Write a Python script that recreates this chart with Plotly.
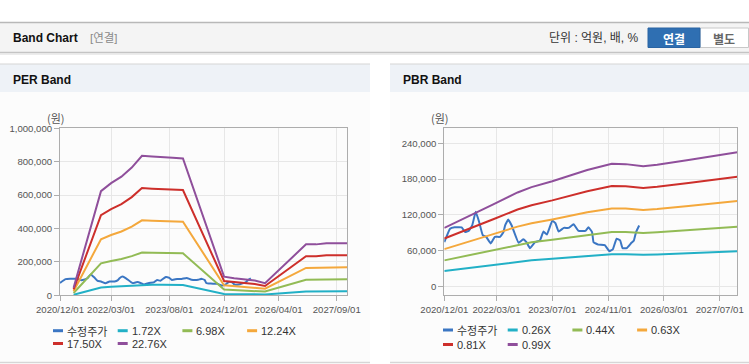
import plotly.graph_objects as go

W, H = 749, 364

# ---------------- data ----------------
price_dates = ["2020-12-01","2021-01-20","2021-03-01","2021-05-01","2021-06-01","2021-07-01","2021-08-01",
               "2021-09-01","2021-10-01","2021-11-01","2021-12-01","2022-01-10","2022-02-15","2022-04-01",
               "2022-05-01","2022-05-15","2022-06-12","2022-07-12","2022-09-10","2022-10-20","2022-11-18",
               "2022-12-18","2023-02-01","2023-03-15","2023-04-15","2023-05-15","2023-07-01","2023-07-28",
               "2023-08-25","2023-10-10","2023-11-20","2024-01-03","2024-02-15","2024-04-15","2024-05-12",
               "2024-06-12","2024-06-25","2024-08-05","2024-10-01","2024-11-10","2024-12-10","2025-01-12",
               "2025-02-12","2025-03-05","2025-04-10","2025-05-22","2025-06-12","2025-07-01","2025-07-28"]
price_vals = [74000,96700,99000,99000,91000,93000,102000,125000,108000,86000,
              83000,72000,83000,83000,91000,102000,112000,102000,73000,79000,
              74000,64000,74000,77000,92000,87000,110000,106000,92000,98000,
              98000,104000,93000,93000,99000,91000,74000,70000,69000,59000,
              62000,80000,77000,64000,64000,73000,77000,91000,102000]

per_dates = ["2021-04-01","2021-12-01","2022-03-01","2022-06-01","2022-09-01","2022-12-01","2023-03-01",
             "2023-06-01","2023-09-01","2023-12-01","2024-12-01","2025-03-01","2025-06-01","2025-09-01",
             "2025-12-01","2026-12-01","2027-03-01","2027-06-01","2027-12-01"]
per_172 = [3440,47128,50740,53664,57792,63124,62780,62608,62264,61920,8428,7740,7224,6708,5504,23048,23048,23564,23564]
per_698 = [13960,191252,205910,217776,234528,256166,254770,254072,252676,251280,34202,31410,29316,27222,22336,93532,93532,95626,95626]
per_1224 = [24480,335376,361080,381888,411264,449208,446760,445536,443088,440640,59976,55080,51408,47736,39168,164016,164016,167688,167688]
per_1750 = [35000,479500,516250,546000,588000,642250,638750,637000,633500,630000,85750,78750,73500,68250,56000,234500,234500,239750,239750]
per_2276 = [45520,623624,671420,710112,764736,835292,830740,828464,823912,819360,111524,102420,95592,88764,72832,304984,304984,311812,311812]

pbr_dates = ["2020-12-01","2021-08-01","2022-02-01","2022-09-01","2023-01-01","2023-07-01","2024-05-01",
             "2024-12-01","2025-04-01","2025-09-01","2026-01-01","2026-10-01","2027-12-01"]
pbr_026 = [25740,31460,36140,41340,43680,46280,51220,53950,53820,52910,53560,55640,59020]
pbr_044 = [43560,53240,61160,69960,73920,78320,86680,91300,91080,89540,90640,94160,99880]
pbr_063 = [62370,76230,87570,100170,105840,112140,124110,130725,130410,128205,129780,134820,143010]
pbr_081 = [80190,98010,112590,128790,136080,144180,159570,168075,167670,164835,166860,173340,183870]
pbr_099 = [98010,119790,137610,157410,166320,176220,195030,205425,204930,201465,203940,211860,224730]

per_names = ["수정주가", "1.72X", "6.98X", "12.24X", "17.50X", "22.76X"]
pbr_names = ["수정주가", "0.26X", "0.44X", "0.63X", "0.81X", "0.99X"]
colors = ["#3b76c3", "#22b0c6", "#92bb55", "#f4a83c", "#cd2f2b", "#8f4f9b"]

per_ticks = ["2020-12-01","2022-03-01","2023-08-01","2024-12-01","2026-04-01","2027-09-01"]
pbr_ticks = ["2020-12-01","2022-03-01","2023-07-01","2024-11-01","2026-03-01","2027-07-01"]
per_yticks = [0, 200000, 400000, 600000, 800000, 1000000]
pbr_yticks = [0, 60000, 120000, 180000, 240000]

# ---------------- figure ----------------
def px(x): return x / W
def py(y): return 1 - y / H

fig = go.Figure()

per_series = [per_172, per_698, per_1224, per_1750, per_2276]
pbr_series = [pbr_026, pbr_044, pbr_063, pbr_081, pbr_099]

fig.add_trace(go.Scatter(x=price_dates, y=price_vals, mode="lines", name=per_names[0],
                         line=dict(color=colors[0], width=2, shape="spline", smoothing=0.3),
                         xaxis="x", yaxis="y", showlegend=False))
for i, s in enumerate(per_series):
    fig.add_trace(go.Scatter(x=per_dates, y=s, mode="lines", name=per_names[i + 1],
                             line=dict(color=colors[i + 1], width=2),
                             xaxis="x", yaxis="y", showlegend=False))
fig.add_trace(go.Scatter(x=price_dates, y=price_vals, mode="lines", name=pbr_names[0],
                         line=dict(color=colors[0], width=2, shape="spline", smoothing=0.3),
                         xaxis="x2", yaxis="y2", showlegend=False))
for i, s in enumerate(pbr_series):
    fig.add_trace(go.Scatter(x=pbr_dates, y=s, mode="lines", name=pbr_names[i + 1],
                             line=dict(color=colors[i + 1], width=2),
                             xaxis="x2", yaxis="y2", showlegend=False))

tickfont = dict(family="Liberation Sans, Arial, sans-serif", size=9.6, color="#555555")
axis_common = dict(showline=True, mirror=True, linecolor="#adadad", linewidth=1,
                   showgrid=True, gridcolor="#e7e7e7", gridwidth=1, zeroline=False,
                   ticks="outside", ticklen=5, tickcolor="#adadad", tickfont=tickfont,
                   tickangle=0, automargin=False)

fig.update_layout(
    width=W, height=H, margin=dict(l=0, r=0, t=0, b=0, autoexpand=False),
    paper_bgcolor="white", plot_bgcolor="rgba(0,0,0,0)",
    showlegend=False,
    xaxis=dict(domain=[px(60), px(347)], type="date", range=["2020-12-01", "2027-12-01"],
               tickvals=per_ticks, tickformat="%Y/%m/%d", anchor="y", **axis_common),
    yaxis=dict(domain=[py(295.3), py(128.3)], range=[0, 1000000], tickvals=per_yticks,
               tickformat=",d", anchor="x", **axis_common),
    xaxis2=dict(domain=[px(444.3), px(737.3)], type="date", range=["2020-12-01", "2027-12-01"],
                tickvals=pbr_ticks, tickformat="%Y/%m/%d", anchor="y2", **axis_common),
    yaxis2=dict(domain=[py(295.3), py(128.3)], range=[-15000, 265000], tickvals=pbr_yticks,
                tickformat=",d", anchor="x2", **axis_common),
)

shapes = []
ann = []

def rect(x0, y0, x1, y1, fill, line=None):
    shapes.append(dict(type="rect", xref="paper", yref="paper", x0=px(x0), x1=px(x1),
                       y0=py(y1), y1=py(y0), fillcolor=fill, layer="below",
                       line=dict(width=0) if line is None else line))

def hline(x0, x1, y, color, w=1):
    shapes.append(dict(type="line", xref="paper", yref="paper", x0=px(x0), x1=px(x1),
                       y0=py(y), y1=py(y), line=dict(color=color, width=w), layer="below"))

def text(x, y, s, size=12, color="#222", bold=False, anchor="left", family="Liberation Sans, Noto Sans CJK KR"):
    ann.append(dict(xref="paper", yref="paper", x=px(x), y=py(y), text=("<b>%s</b>" % s) if bold else s,
                    showarrow=False, xanchor=anchor, yanchor="middle",
                    font=dict(family=family, size=size, color=color)))

# header
rect(0, 22.5, 749, 52.5, "#f4f4f4")
hline(0, 749, 22.5, "#b8b8b8", 1.3)
hline(0, 749, 52.5, "#c4c4c4", 1.3)
hline(0, 749, 54, "#e6e6e6", 1.5)
text(11, 38.5, "Band Chart", 12, "#111111", True)
text(88, 38.5, "[연결]", 11.5, "#8a8a8a")
text(641, 38.5, "단위 : 억원, 배, %", 12, "#333333", anchor="right")
shapes.append(dict(type="rect", xref="paper", yref="paper", x0=px(700), x1=px(748.5), y0=py(47.5), y1=py(28),
                   fillcolor="#ffffff", line=dict(color="#c8c8c8", width=1), layer="below"))
shapes.append(dict(type="rect", xref="paper", yref="paper", x0=px(648), x1=px(700), y0=py(47.5), y1=py(28),
                   fillcolor="#2f6fb2", line=dict(color="#2a64a3", width=1), layer="below"))
text(674, 38.5, "연결", 12, "#ffffff", True, anchor="center", family="Noto Sans CJK KR")
text(724, 38.5, "별도", 12, "#666666", True, anchor="center", family="Noto Sans CJK KR")

# panels
for (x0, x1, title) in [(0, 370, "PER Band"), (390, 749, "PBR Band")]:
    rect(x0, 64, x1, 362, "#fcfcfc")
    rect(x0, 64, x1, 92, "#eef2f7")
    hline(x0, x1, 64, "#d6d6d6", 1.2)
    hline(x0, x1, 362.5, "#d6d6d6", 1.5)
    text(x0 + 11, 80, title, 12, "#111111", True)

# unit labels
text(55.5, 118, "(원)", 11, "#555555", anchor="center", family="Noto Sans CJK KR")
text(440, 118, "(원)", 11, "#555555", anchor="center", family="Noto Sans CJK KR")

# legends
for (lx, names, rows) in [(53, per_names, (330.7, 343.5)), (443, pbr_names, (330, 344.5))]:
    for i, nm in enumerate(names):
        col, row = i % 4, i // 4
        x = lx + col * 64.7
        y = rows[row]
        shapes.append(dict(type="line", xref="paper", yref="paper", x0=px(x), x1=px(x + 10),
                           y0=py(y), y1=py(y), line=dict(color=colors[i], width=3)))
        fam = "Noto Sans CJK KR" if i == 0 else "Liberation Sans, Noto Sans CJK KR"
        text(x + 12, y, nm, 11, "#333333", family=fam)

fig.update_layout(shapes=shapes, annotations=ann)
fig.write_html("out.html",
               config={"responsive": False, "displayModeBar": False},
               post_script="document.body.style.margin='0';document.body.style.padding='0';"
                           "document.body.style.overflow='hidden';")
